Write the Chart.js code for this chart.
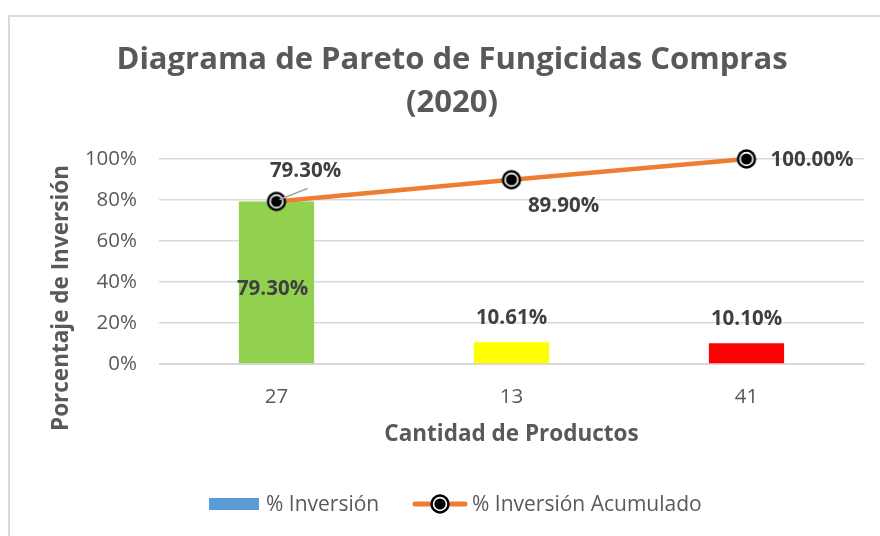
<!DOCTYPE html>
<html>
<head>
<meta charset="utf-8">
<script src="https://cdn.jsdelivr.net/npm/chart.js@4.4.1/dist/chart.umd.min.js"></script>
<style>
  body { margin: 0; background: #fff; }
  canvas { display: block; }
</style>
</head>
<body>
<canvas id="chart" width="880" height="536"></canvas>
<script>
// pareto de fungicidas 2020
const categorias = ['27', '13', '41'];
const inversion = [79.30, 10.61, 10.10];
const acumulado = [79.30, 89.90, 100.00];
const titulo = ['Diagrama de Pareto de Fungicidas Compras', '(2020)'];
const tituloY = 'Porcentaje de Inversión';

const FONT = '"Open Sans"';
const GRIS = '#595959';

const fmt = v => v.toFixed(2) + '%';

// marcador circular negro con anillo blanco
function makeMarker() {
  const c = document.createElement('canvas');
  c.width = 22; c.height = 22;
  const g = c.getContext('2d');
  g.beginPath();
  g.arc(11, 11, 9.7, 0, 2 * Math.PI);
  g.fillStyle = '#000';
  g.fill();
  g.beginPath();
  g.arc(11, 11, 6.4, 0, 2 * Math.PI);
  g.strokeStyle = '#fff';
  g.lineWidth = 1.6;
  g.stroke();
  return c;
}
const marker = makeMarker();

const fondo = {
  id: 'fondo',
  beforeDraw(chart) {
    const ctx = chart.ctx;
    ctx.save();
    ctx.fillStyle = '#fff';
    ctx.fillRect(0, 0, chart.width, chart.height);
    ctx.strokeStyle = '#d9d9d9';
    ctx.lineWidth = 2;
    ctx.strokeRect(9, 16, 1000, 1000);
    ctx.restore();
  }
};

// titulo principal y titulo del eje vertical
const titulos = {
  id: 'titulos',
  afterDraw(chart) {
    const ctx = chart.ctx;
    ctx.save();
    ctx.font = 'bold 31px ' + FONT;
    ctx.fillStyle = GRIS;
    ctx.textAlign = 'center';
    ctx.textBaseline = 'middle';
    ctx.fillText(titulo[0], 452, 60);
    ctx.fillText(titulo[1], 452, 103);

    ctx.font = 'bold 22.5px ' + FONT;
    ctx.translate(62, 298);
    ctx.rotate(-Math.PI / 2);
    ctx.fillText(tituloY, 0, 0);
    ctx.restore();
  }
};

const etiquetas = {
  id: 'etiquetas',
  afterDatasetsDraw(chart) {
    const ctx = chart.ctx;
    ctx.save();
    ctx.font = 'bold 20.5px ' + FONT;
    ctx.fillStyle = '#404040';
    ctx.textAlign = 'center';
    ctx.textBaseline = 'middle';

    const barras = chart.getDatasetMeta(0).data;
    barras.forEach((b, i) => {
      if (i === 0) {
        ctx.fillText(fmt(inversion[i]), b.x - 4, (b.y + b.base) / 2 + 7);
      } else {
        ctx.fillText(fmt(inversion[i]), b.x, b.y - 24);
      }
    });

    const pts = chart.getDatasetMeta(1).data;
    // linea guia del primer punto
    ctx.strokeStyle = '#a6a6a6';
    ctx.lineWidth = 1.5;
    ctx.beginPath();
    ctx.moveTo(pts[0].x + 3, pts[0].y - 2);
    ctx.lineTo(pts[0].x + 31, pts[0].y - 13);
    ctx.stroke();

    ctx.fillText(fmt(acumulado[0]), pts[0].x + 29, pts[0].y - 30);
    ctx.fillText(fmt(acumulado[1]), pts[1].x + 52, pts[1].y + 26);
    ctx.textAlign = 'left';
    ctx.fillText(fmt(acumulado[2]), pts[2].x + 24, pts[2].y + 1);
    ctx.restore();
  }
};

const leyenda = {
  id: 'leyenda',
  afterDraw(chart) {
    const ctx = chart.ctx;
    const y = 504;
    ctx.save();
    ctx.fillStyle = '#5B9BD5';
    ctx.fillRect(209, y - 6, 50, 12);
    ctx.strokeStyle = '#ED7D31';
    ctx.lineWidth = 5;
    ctx.lineCap = 'round';
    ctx.beginPath();
    ctx.moveTo(415, y);
    ctx.lineTo(465, y);
    ctx.stroke();
    ctx.drawImage(marker, 440 - 11, y - 11);
    ctx.font = '21px ' + FONT;
    ctx.fillStyle = GRIS;
    ctx.textBaseline = 'middle';
    ctx.fillText(chart.data.datasets[0].label, 266, y + 1);
    ctx.fillText(chart.data.datasets[1].label, 472, y + 1);
    ctx.restore();
  }
};

const ctx = document.getElementById('chart').getContext('2d');
const myChart = new Chart(ctx, {
  type: 'bar',
  data: {
    labels: categorias,
    datasets: [{
      type: 'bar',
      label: '% Inversión',
      data: inversion,
      backgroundColor: ['#92D050', '#FFFF00', '#FF0000'],
      barPercentage: 0.32,
      categoryPercentage: 1,
      order: 1
    }, {
      type: 'line',
      label: '% Inversión Acumulado',
      data: acumulado,
      borderColor: '#ED7D31',
      borderWidth: 4.5,
      pointStyle: marker,
      pointRadius: 9,
      tension: 0,
      clip: false,
      order: 0
    }]
  },
  options: {
    responsive: false,
    animation: false,
    layout: {
      padding: { left: 20, right: 16, top: 159, bottom: 72 }
    },
    plugins: {
      legend: { display: false },
      tooltip: { enabled: false }
    },
    scales: {
      x: {
        grid: { display: false, drawTicks: false },
        border: { color: '#d9d9d9', width: 1 },
        ticks: { color: GRIS, font: { family: FONT, size: 20.5 }, padding: 21 },
        title: {
          display: true,
          text: 'Cantidad de Productos',
          color: GRIS,
          font: { family: FONT, size: 22.5, weight: 'bold' },
          padding: { top: 4, bottom: 16 }
        },
        afterFit(scale) { scale.height = 100; }
      },
      y: {
        min: 0,
        max: 100,
        ticks: {
          stepSize: 20,
          color: GRIS,
          font: { family: FONT, size: 20.5 },
          padding: 22,
          callback: v => v + '%'
        },
        grid: { color: '#d9d9d9', lineWidth: 1.5, drawTicks: false },
        border: { display: false },
        afterFit(scale) { scale.width = 139; }
      }
    }
  },
  plugins: [fondo, etiquetas, titulos, leyenda]
});
</script>
</body>
</html>
